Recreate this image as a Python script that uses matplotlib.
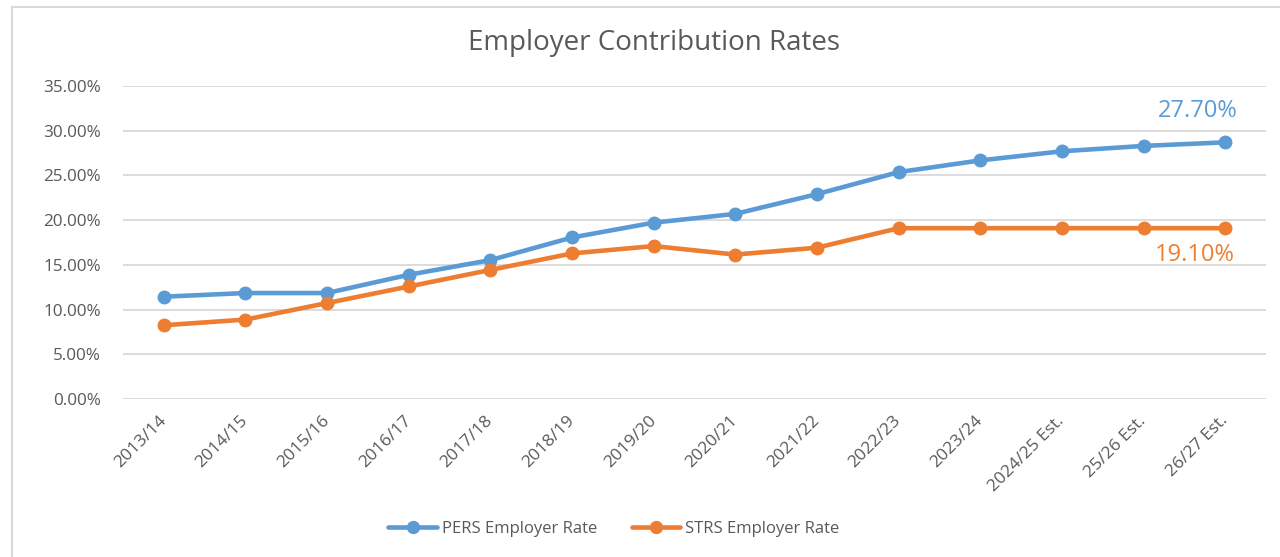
import numpy as np
import matplotlib.pyplot as plt
from matplotlib.patches import Rectangle
from matplotlib.ticker import FuncFormatter

plt.rcParams['font.family'] = ['Open Sans', 'DejaVu Sans']

# chart values (percent)
years = ['2013/14', '2014/15', '2015/16', '2016/17', '2017/18', '2018/19',
         '2019/20', '2020/21', '2021/22', '2022/23', '2023/24',
         '2024/25 Est.', '25/26 Est.', '26/27 Est.']
pers = [11.44, 11.85, 11.85, 13.89, 15.53, 18.06, 19.72, 20.70, 22.91,
        25.37, 26.68, 27.70, 28.30, 28.70]
strs = [8.25, 8.88, 10.73, 12.58, 14.43, 16.28, 17.10, 16.15, 16.92,
        19.10, 19.10, 19.10, 19.10, 19.10]
pers_label = '27.70%'
strs_label = '19.10%'

blue = '#5B9BD5'
orange = '#ED7D31'
grey = '#595959'

fig = plt.figure(figsize=(12.8, 5.57), dpi=100)
# chart frame
fig.patches.append(Rectangle((12 / 1280, -0.05), 1.2, 1 - 7 / 557 + 0.05,
                             transform=fig.transFigure, fill=False,
                             edgecolor='#D9D9D9', linewidth=1.5))

ax = fig.add_axes([123 / 1280, 1 - 399 / 557, 1143 / 1280, 313 / 557])
x = np.arange(len(years))
ax.plot(x, pers, color=blue, lw=3.3, marker='o', ms=9,
        solid_capstyle='round', label='PERS Employer Rate', zorder=3)
ax.plot(x, strs, color=orange, lw=3.3, marker='o', ms=9,
        solid_capstyle='round', label='STRS Employer Rate', zorder=3)

ax.set_xlim(-0.5, len(years) - 0.5)
ax.set_ylim(0, 35)
ax.set_yticks(np.arange(0, 36, 5))
ax.yaxis.set_major_formatter(FuncFormatter(lambda v, p: '%.2f%%' % v))
ax.grid(axis='y', color='#D9D9D9', lw=1.3)
ax.set_axisbelow(True)
for s in ax.spines.values():
    s.set_visible(False)
ax.tick_params(length=0, colors=grey)
ax.tick_params(axis='y', pad=16, labelsize=12.3)
ax.set_xticks(x)
ax.set_xticklabels(years, rotation=45, ha='right', va='center',
                   rotation_mode='anchor', fontsize=12.5)
ax.tick_params(axis='x', pad=14)

ax.text(x[-1] - 0.33, 32.2, pers_label, color=blue, fontsize=17,
        ha='center', va='center')
ax.text(x[-1] - 0.37, 16.1, strs_label, color=orange, fontsize=17,
        ha='center', va='center')

fig.text(654 / 1280, 1 - 43 / 557, 'Employer Contribution Rates',
         color=grey, fontsize=20, ha='center', va='center')

fig.legend(loc='center', bbox_to_anchor=(614 / 1280, 1 - 529 / 557),
           ncol=2, frameon=False, fontsize=12, labelcolor=grey,
           handlelength=2.9, handletextpad=0.3, columnspacing=2.1,
           markerscale=0.95)

fig.savefig('out.png', dpi=100)
